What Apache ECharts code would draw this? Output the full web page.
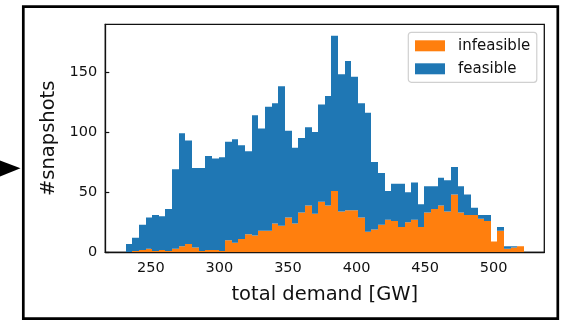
<!DOCTYPE html>
<html>
<head>
<meta charset="utf-8">
<script src="https://cdn.jsdelivr.net/npm/echarts@6/dist/echarts.min.js"></script>
<style>
html,body{margin:0;padding:0;background:#fff;}
#chart{width:567px;height:320px;}
</style>
</head>
<body>
<div id="chart"></div>
<script>
// Histogram bins (total demand, GW)
const binStart = 231.6;
const binWidth = 4.842;
// counts per bin (stacked: infeasible at bottom, feasible on top)
const infeasible = [0,1,2,3,1,2,1,3,5,7,4,1,2,2,1,10,8,11,15,14,18,18,24,22,29,24,33,39,32,42,39,51,34,35,35,29,17,19,23,27,26,21,25,27,21,33,36,39,34,48,33,31,31,28,26,9,18,3,4,5];
const feasible   = [7,11,21,26,30,28,35,66,94,86,66,69,78,76,78,82,86,78,69,100,85,103,100,116,72,63,62,65,68,81,91,129,114,124,111,95,99,56,43,24,31,36,25,31,19,22,19,23,26,23,22,17,6,3,5,0,3,2,1,0];
const xTicks = [250,300,350,400,450,500];
const yTicks = [0,50,100,150];
const xRange = [216.8, 536.9];
const yRange = [0, 189.6];

const FONT = 'DejaVu Sans';
const ORANGE = '#ff7f0e';
const BLUE = '#1f77b4';

function buildData(bottomArr, topArr) {
  return topArr.map(function (v, i) {
    const s = binStart + i * binWidth;
    const base = bottomArr ? bottomArr[i] : 0;
    return [s, s + binWidth, base, base + v];
  });
}

function renderBin(color) {
  return function (params, api) {
    const p0 = api.coord([api.value(0), api.value(3)]);
    const p1 = api.coord([api.value(1), api.value(2)]);
    const x0 = Math.round(p0[0]), x1 = Math.round(p1[0]);
    const y0 = p0[1], y1 = p1[1];
    if (y1 - y0 <= 0) return null;
    return {
      type: 'rect',
      shape: { x: x0, y: y0, width: x1 - x0, height: y1 - y0 },
      style: { fill: color }
    };
  };
}

const chart = echarts.init(document.getElementById('chart'), null, { renderer: 'canvas' });
chart.setOption({
  animation: false,
  backgroundColor: '#fff',
  textStyle: { fontFamily: FONT },
  grid: {
    left: 105.3, right: 22.7, top: 24.3, bottom: 67.7,
    show: true, borderColor: '#111', borderWidth: 1.3, backgroundColor: 'transparent'
  },
  legend: {
    orient: 'vertical',
    left: 408.3, top: 32.3,
    data: ['infeasible', 'feasible'],
    itemWidth: 30, itemHeight: 11, itemGap: 8,
    icon: 'rect',
    padding: [6, 6.5, 6, 6.7],
    backgroundColor: 'rgba(255,255,255,0.85)',
    borderColor: '#d0d0d0', borderWidth: 1.2, borderRadius: 3,
    textStyle: { fontFamily: FONT, fontSize: 15, color: '#111', padding: [0, 0, 0, 8] }
  },
  xAxis: {
    type: 'value',
    min: xRange[0], max: xRange[1],
    name: 'total demand [GW]',
    nameLocation: 'middle', nameGap: 33,
    nameTextStyle: { fontFamily: FONT, fontSize: 19.5, color: '#111' },
    splitLine: { show: false },
    axisLine: { show: true, lineStyle: { color: '#111', width: 1.3 } },
    axisTick: { show: true, inside: true, length: 4, lineStyle: { color: '#111', width: 1.2 }, customValues: xTicks },
    axisLabel: { fontFamily: FONT, fontSize: 14.5, color: '#111', margin: 8, customValues: xTicks }
  },
  yAxis: {
    type: 'value',
    min: yRange[0], max: yRange[1],
    name: '#snapshots',
    nameLocation: 'middle', nameGap: 45,
    nameTextStyle: { fontFamily: FONT, fontSize: 19.5, color: '#111' },
    splitLine: { show: false },
    axisLine: { show: true, lineStyle: { color: '#111', width: 1.3 } },
    axisTick: { show: true, inside: true, length: 4, lineStyle: { color: '#111', width: 1.2 }, customValues: yTicks },
    axisLabel: { fontFamily: FONT, fontSize: 14.5, color: '#111', margin: 8, customValues: yTicks }
  },
  series: [
    {
      name: 'infeasible', type: 'custom',
      itemStyle: { color: ORANGE },
      renderItem: renderBin(ORANGE),
      encode: { x: [0, 1], y: [2, 3] },
      data: buildData(null, infeasible),
      clip: true
    },
    {
      name: 'feasible', type: 'custom',
      itemStyle: { color: BLUE },
      renderItem: renderBin(BLUE),
      encode: { x: [0, 1], y: [2, 3] },
      data: buildData(infeasible, feasible),
      clip: true
    }
  ],
  graphic: [
    {
      type: 'rect', silent: true, z: 100,
      shape: { x: 23.3, y: 6.6, width: 534.5, height: 312 },
      style: { fill: 'none', stroke: '#000', lineWidth: 2.7 }
    },
    {
      type: 'polygon', silent: true, z: 100,
      shape: { points: [[0, 160.5], [20.5, 168.3], [0, 176.5]] },
      style: { fill: '#000' }
    }
  ]
});
</script>
</body>
</html>
